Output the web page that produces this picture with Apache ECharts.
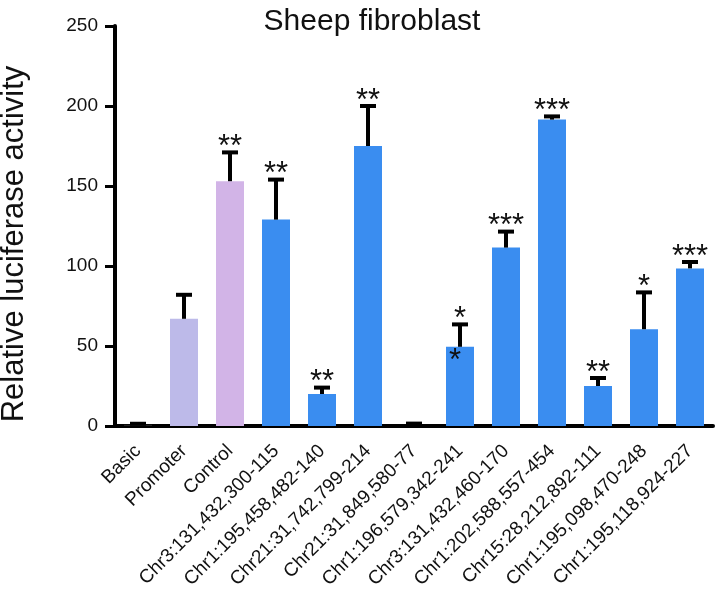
<!DOCTYPE html>
<html><head><meta charset="utf-8">
<script src="https://cdn.jsdelivr.net/npm/echarts@6/dist/echarts.min.js"></script>
<style>html,body{margin:0;padding:0;background:#fff}#c{width:719px;height:592px}</style>
</head><body><div id="c"></div>
<script>
var categories = ['Basic','Promoter','Control','Chr3:131,432,300-115','Chr1:195,458,482-140','Chr21:31,742,799-214','Chr21:31,849,580-77','Chr1:196,579,342-241','Chr3:131,432,460-170','Chr1:202,588,557-454','Chr15:28,212,892-111','Chr1:195,098,470-248','Chr1:195,118,924-227'];
var means = [0.8, 67, 153, 129, 20, 175, -1.2, 49.5, 111.5, 191.5, 25, 60.5, 98.5];
var errors = [0.6, 15, 18, 25, 4, 25, 2.7, 14, 10, 2, 5, 23, 4];
var stars = ['', '', '**', '**', '**', '**', '', '*', '***', '***', '**', '*', '***'];
var innerStars = ['', '', '', '', '', '', '', '*', '', '', '', '', ''];
var yTicks = [0, 50, 100, 150, 200, 250];
var barColors = ['#222222','#BDBAE9','#D2B4E7','#3A8DF0','#3A8DF0','#3A8DF0','#3A8DF0','#3A8DF0','#3A8DF0','#3A8DF0','#3A8DF0','#3A8DF0','#3A8DF0'];

var FONT = '"Liberation Sans", Arial, Helvetica, sans-serif';
var chart = echarts.init(document.getElementById('c'), null, {renderer:'canvas'});
var errData = categories.map(function(c,i){ return [i, means[i], errors[i]]; });
chart.setOption({
  animation:false,
  backgroundColor:'#fff',
  title:{text:'Sheep fibroblast', left:367, top:2, textAlign:'center',
    textStyle:{fontFamily:FONT, fontSize:30, fontWeight:'normal', color:'#111'}},
  grid:{left:115, right:6, top:26, bottom:166, containLabel:false},
  xAxis:{type:'category', data:categories,
    axisLine:{lineStyle:{color:'#000', width:4}},
    axisTick:{alignWithLabel:true, length:10, lineStyle:{color:'#000', width:3}},
    axisLabel:{rotate:45, fontFamily:FONT, fontSize:19, color:'#111', margin:22, interval:0}},
  yAxis:{type:'value', min:yTicks[0], max:yTicks[yTicks.length-1], interval:50,
    axisLine:{show:true, lineStyle:{color:'#000', width:4}},
    axisTick:{show:true, length:10, lineStyle:{color:'#000', width:3}},
    axisLabel:{fontFamily:FONT, fontSize:19, color:'#111', margin:17},
    splitLine:{show:false}},
  graphic:[{type:'text', x:14, y:244, rotation:Math.PI/2,
    style:{text:'Relative luciferase activity', fontFamily:FONT, fontSize:31, fill:'#111', align:'center', verticalAlign:'middle'}}],
  series:[
    {type:'bar', barWidth:28, data:means.map(function(v,i){return {value:v, itemStyle:{color:barColors[i]}};}), z:2},
    {type:'custom', z:5, data:errData,
     renderItem:function(params, api){
       var i = api.value(0), m = api.value(1), e = api.value(2);
       var p0 = api.coord([i, m]);
       var p1 = api.coord([i, m+e]);
       var x = p0[0], hw = 8;
       var children = [
         {type:'line', shape:{x1:x, y1:p0[1], x2:x, y2:p1[1]}, style:{stroke:'#000', lineWidth:4}},
         {type:'line', shape:{x1:x-hw, y1:p1[1], x2:x+hw, y2:p1[1]}, style:{stroke:'#000', lineWidth:4}}
       ];
       if (stars[i]) children.push({type:'text', x:x, y:p1[1]-5,
         style:{text:stars[i], fontFamily:FONT, fontSize:31, fill:'#111', align:'center', verticalAlign:'middle'}});
       if (innerStars[i]) children.push({type:'text', x:x-5, y:p0[1]+15,
         style:{text:innerStars[i], fontFamily:FONT, fontSize:31, fill:'#111', align:'center', verticalAlign:'middle'}});
       return {type:'group', children:children};
     }}
  ]
});
</script></body></html>
